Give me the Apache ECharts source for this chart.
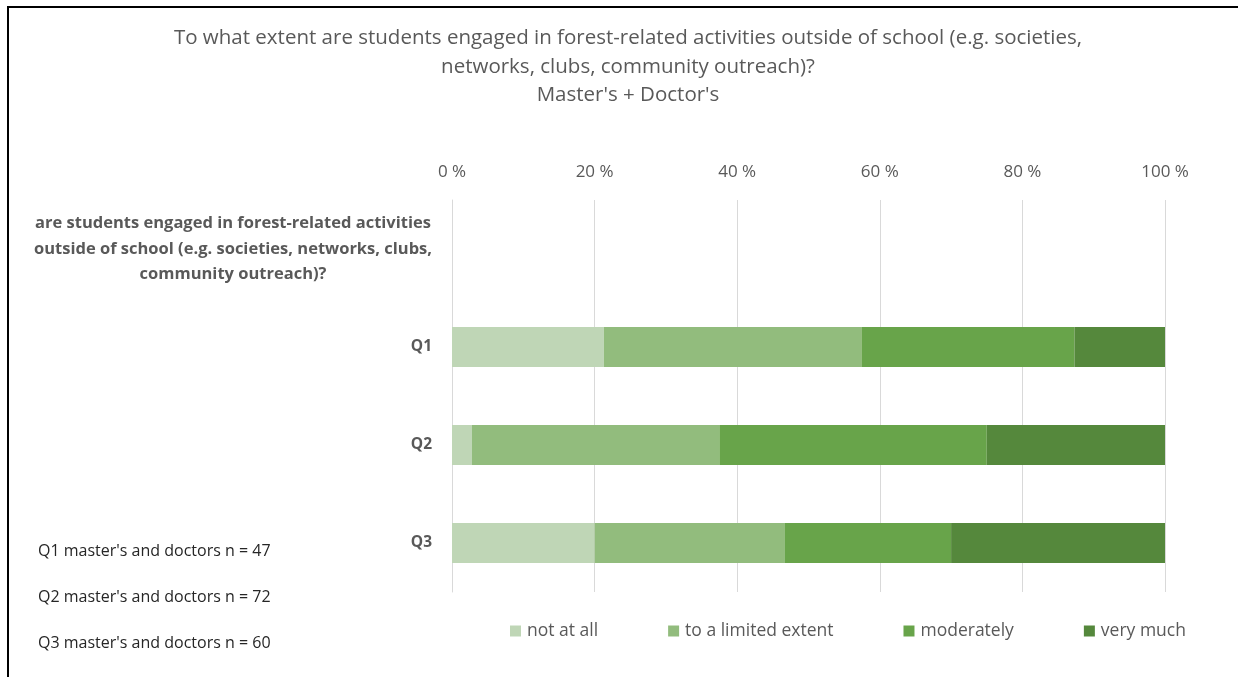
<!DOCTYPE html>
<html>
<head>
<meta charset="utf-8">
<script src="https://cdn.jsdelivr.net/npm/echarts@6/dist/echarts.min.js"></script>
<style>
html,body{margin:0;padding:0;background:#fff;}
#chart{width:1238px;height:677px;}
</style>
</head>
<body>
<div id="chart"></div>
<script>
const categories = [
  "are students engaged in forest-related activities\noutside of school (e.g. societies, networks, clubs,\ncommunity outreach)?",
  "Q1", "Q2", "Q3"
];
const seriesNames = ["not at all", "to a limited extent", "moderately", "very much"];
const notAtAll = [null, 21.3, 2.8, 20.0];
const limitedExtent = [null, 36.2, 34.7, 26.7];
const moderately = [null, 29.8, 37.5, 23.3];
const veryMuch = [null, 12.8, 25.0, 30.0];
const notes = [
  "Q1 master's and doctors n = 47",
  "Q2 master's and doctors n = 72",
  "Q3 master's and doctors n = 60"
];
const colors = ["#bfd6b6", "#92bc7d", "#68a44a", "#55883c"];
const font = "'Open Sans', 'Liberation Sans', sans-serif";

const chart = echarts.init(document.getElementById('chart'));
const seriesData = [notAtAll, limitedExtent, moderately, veryMuch];
chart.setOption({
  animation: false,
  color: colors,
  title: {
    text: "To what extent are students engaged in forest-related activities outside of school (e.g. societies,\nnetworks, clubs, community outreach)?\nMaster's + Doctor's",
    left: 628, textAlign: 'center', top: 24, padding: 0,
    textStyle: { fontFamily: font, fontSize: 20.5, fontWeight: 'normal', color: '#595959', lineHeight: 28.5 }
  },
  legend: {
    top: 622, left: 510, padding: 0,
    itemWidth: 11, itemHeight: 11, itemGap: 70,
    icon: 'rect',
    textStyle: { fontFamily: font, fontSize: 17.5, color: '#595959', padding: [0,0,0,1] },
    data: seriesNames
  },
  grid: { left: 452, right: 73, top: 200, bottom: 85 },
  xAxis: {
    type: 'value', position: 'top', min: 0, max: 100, interval: 20,
    axisLabel: { formatter: v => v + ' %', fontFamily: font, fontSize: 17, color: '#595959', margin: 19 },
    axisLine: { show: false }, axisTick: { show: false },
    splitLine: { lineStyle: { color: '#d9d9d9', width: 1 } }
  },
  yAxis: {
    type: 'category', inverse: true, data: categories,
    axisLine: { show: true, lineStyle: { color: '#d9d9d9' } }, axisTick: { show: false },
    axisLabel: {
      margin: 20, fontFamily: font, fontSize: 15.5, fontWeight: 'bold', color: '#595959',
      formatter: (v, i) => i === 0 ? '{h|' + v + '}' : v,
      rich: { h: { width: 398, align: 'center', fontFamily: font, fontSize: 16.5, fontWeight: 'bold', color: '#595959', lineHeight: 25.5 } }
    }
  },
  series: seriesNames.map((n, k) => ({
    name: n, type: 'bar', stack: 'total', barWidth: 40,
    data: seriesData[k]
  })),
  graphic: [
    { type: 'line', shape: { x1: 7, y1: 7, x2: 1238, y2: 7 }, style: { stroke: '#000', lineWidth: 2 } },
    { type: 'line', shape: { x1: 8, y1: 6, x2: 8, y2: 677 }, style: { stroke: '#000', lineWidth: 2 } },
    ...notes.map((t, i) => ({
      type: 'text', left: 38, top: 543 + i * 46,
      style: { text: t, fontFamily: font, fontSize: 16, fill: '#262626' }
    }))
  ]
});
</script>
</body>
</html>
